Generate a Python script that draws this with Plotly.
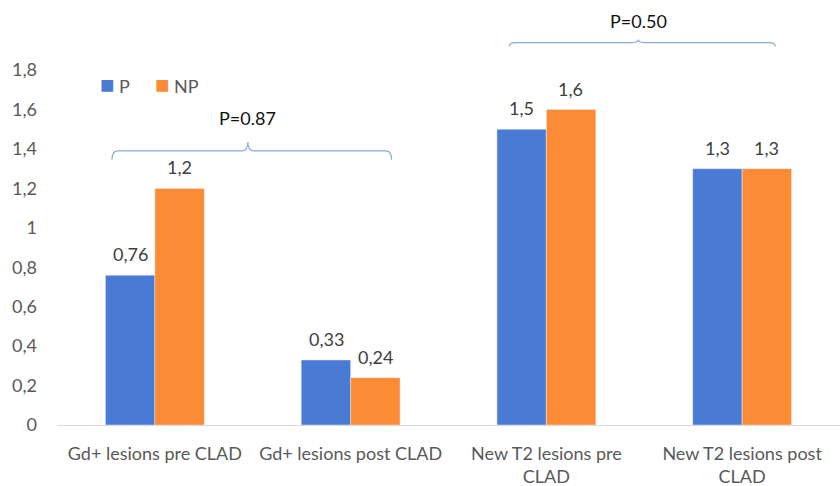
import plotly.graph_objects as go

categories = ["Gd+ lesions pre CLAD", "Gd+ lesions post CLAD",
              "New T2 lesions pre<br>CLAD", "New T2 lesions post<br>CLAD"]
p_values = [0.76, 0.33, 1.5, 1.3]
np_values = [1.2, 0.24, 1.6, 1.3]
p_labels = ["0,76", "0,33", "1,5", "1,3"]
np_labels = ["1,2", "0,24", "1,6", "1,3"]
tick_vals = [0, 0.2, 0.4, 0.6, 0.8, 1, 1.2, 1.4, 1.6, 1.8]
tick_text = ["0", "0,2", "0,4", "0,6", "0,8", "1", "1,2", "1,4", "1,6", "1,8"]

FONT = "Lato"
BLUE = "#4A7BD4"
ORANGE = "#FB8B35"
BRACE = "#8EA9D8"
GREY = "#595959"

fig = go.Figure()
for name, vals, color in [("P", p_values, BLUE), ("NP", np_values, ORANGE)]:
    fig.add_trace(go.Bar(x=categories, y=vals, name=name, marker_color=color,
                         showlegend=False))

# étiquettes de valeurs au-dessus des barres (décalées d'une demi-barre)
for vals, labels, shift in [(p_values, p_labels, -24.5), (np_values, np_labels, 24.5)]:
    for cat, v, lab in zip(categories, vals, labels):
        fig.add_annotation(x=cat, y=v, xref="x", yref="y", text=lab,
                           xshift=shift, yshift=21, yanchor="middle",
                           showarrow=False,
                           font=dict(size=18, color="#404040", family=FONT))


def brace(x0, x1, xm, y, drop, tip):
    # accolade ouverte vers le bas, en unités de données
    return (f"M {x0},{y - drop} Q {x0},{y} {x0 + 0.03},{y} L {xm - 0.03},{y} "
            f"Q {xm},{y} {xm},{y + tip} Q {xm},{y} {xm + 0.03},{y} "
            f"L {x1 - 0.03},{y} Q {x1},{y} {x1},{y - drop}")


fig.add_shape(type="path", xref="x", yref="y",
              path=brace(-0.219, 1.209, 0.475, 1.39, 0.045, 0.045),
              line=dict(color=BRACE, width=1.2))
fig.add_shape(type="path", xref="x", yref="y",
              path=brace(1.811, 3.169, 2.47, 1.94, 0.02, 0.015),
              line=dict(color=BRACE, width=1.2))
fig.add_annotation(x=0.475, y=1.555, xref="x", yref="y", text="P=0.87",
                   showarrow=False, font=dict(size=18, color="#111111", family=FONT))
fig.add_annotation(x=2.47, y=2.05, xref="x", yref="y", text="P=0.50",
                   showarrow=False, font=dict(size=18, color="#111111", family=FONT))

# légende dessinée à la main (carré coloré collé au texte)
fig.add_annotation(x=-0.29, y=1.73, xref="x", yref="y", xanchor="left",
                   text=f"<span style='color:{BLUE};font-size:24px'>■</span> P",
                   showarrow=False, font=dict(size=18, color=GREY, family=FONT))
fig.add_annotation(x=-0.01, y=1.73, xref="x", yref="y", xanchor="left",
                   text=f"<span style='color:{ORANGE};font-size:24px'>■</span> NP",
                   showarrow=False, font=dict(size=18, color=GREY, family=FONT))

fig.update_layout(
    width=840,
    height=486,
    margin=dict(l=57, r=0, t=11, b=61),
    plot_bgcolor="white",
    paper_bgcolor="white",
    barmode="group",
    bargap=0.495,
    bargroupgap=0,
    font=dict(family=FONT, color=GREY, size=18),
    xaxis=dict(range=[-0.5, 3.5], showgrid=False, showline=True,
               linecolor="#D9D9D9", linewidth=1, ticks="",
               tickfont=dict(size=18, color=GREY), ticklabelstandoff=12),
    yaxis=dict(range=[0, 2.1], tickvals=tick_vals, ticktext=tick_text,
               showgrid=False, zeroline=False, showline=False,
               tickfont=dict(size=18, color=GREY), ticklabelstandoff=19),
)

fig.write_html("out.html", config={"displayModeBar": False},
               post_script="document.body.style.margin='0';")
